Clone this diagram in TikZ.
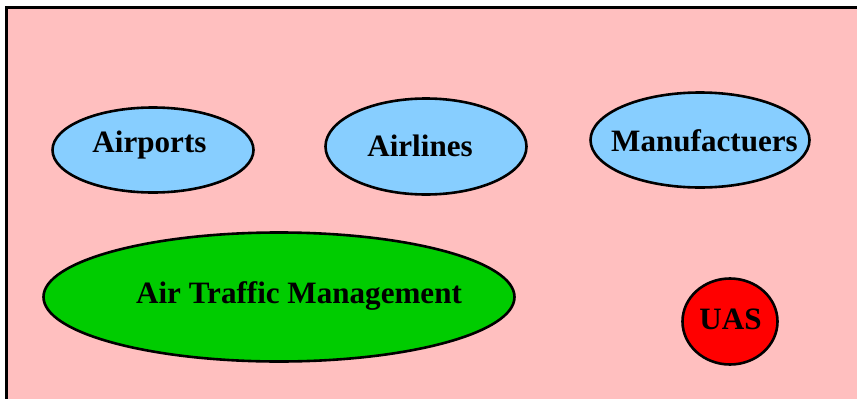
\documentclass[tikz,border=0pt]{standalone}
\usepackage{fontspec}
\setmainfont{Liberation Serif}
\usetikzlibrary{shapes.geometric,positioning}
\definecolor{backpink}{RGB}{255,191,191}
\definecolor{partyblue}{RGB}{135,206,255}
\definecolor{atmgreen}{RGB}{0,204,0}
\definecolor{uasred}{RGB}{255,0,0}
\tikzset{
  every node/.style={anchor=base,font=\fontsize{31.1}{36}\selectfont\bfseries},
  party/.style={ellipse,draw,line width=2.6pt,inner sep=0pt,anchor=center},
}
\begin{document}
\begin{tikzpicture}[x=1pt,y=-1pt]
  \clip (0,0) rectangle (857,399);
  \fill[white] (0,0) rectangle (857,399);
  \draw[fill=backpink,line width=3pt] (6.5,7.5) rectangle (880,400.2);
  % stakeholders
  \node[party,fill=partyblue,minimum width=201pt,minimum height=85pt] (airports) at (153,150) {};
  \node[party,fill=partyblue,minimum width=201pt,minimum height=96pt] (airlines) at (426,146.5) {};
  \node[party,fill=partyblue,minimum width=219pt,minimum height=95pt] (manuf) at (700,140) {};
  \node[party,fill=atmgreen,minimum width=471pt,minimum height=129pt] (atm) at (279,297) {};
  \node[party,fill=uasred,minimum width=95pt,minimum height=86pt] (uas) at (730,321.5) {};
  % labels
  \node (airportsLabel) at (149.5,152) {Airports};
  \node (airlinesLabel) at (420,156) {Airlines};
  \node (manufLabel) at (704.5,151) {Manufactuers};
  \node (atmLabel) at (299,303) {Air Traffic Management};
  \node (uasLabel) at (730.5,329) {UAS};
\end{tikzpicture}
\end{document}
